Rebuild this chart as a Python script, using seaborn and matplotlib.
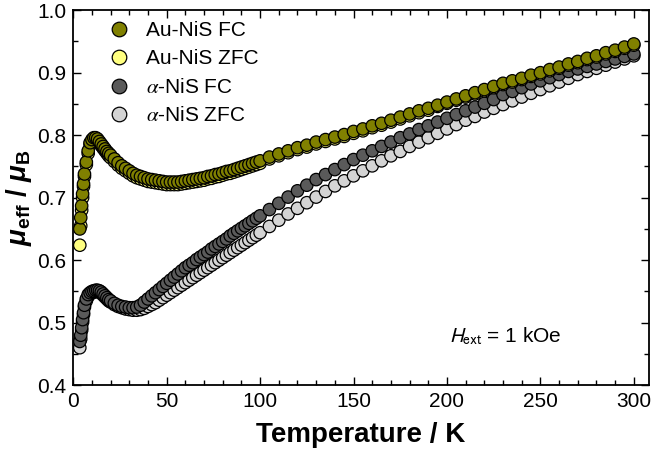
import pandas as pd
import seaborn as sns
import matplotlib.pyplot as plt
from matplotlib.ticker import MultipleLocator
from matplotlib.lines import Line2D

# temperature grid (K): fine steps at low T, 2 K up to 100 K, 5 K above
temperature = [3.5, 4, 4.5, 5, 5.5, 6, 7, 8, 9, 10, 11, 12, 13, 14, 15, 16, 17, 18, 19, 20,
               22, 24, 26, 28, 30, 32, 34, 36, 38, 40, 42, 44, 46, 48, 50, 52, 54, 56, 58, 60,
               62, 64, 66, 68, 70, 72, 74, 76, 78, 80, 82, 84, 86, 88, 90, 92, 94, 96, 98, 100,
               105, 110, 115, 120, 125, 130, 135, 140, 145, 150, 155, 160, 165, 170, 175, 180,
               185, 190, 195, 200, 205, 210, 215, 220, 225, 230, 235, 240, 245, 250, 255, 260,
               265, 270, 275, 280, 285, 290, 295, 300]

au_fc = [0.650, 0.668, 0.687, 0.706, 0.722, 0.738, 0.757, 0.775, 0.788, 0.793, 0.796, 0.796,
         0.794, 0.790, 0.786, 0.782, 0.778, 0.774, 0.771, 0.768,
         0.762, 0.756, 0.751, 0.747, 0.743, 0.739, 0.736, 0.734, 0.732, 0.730, 0.729, 0.728,
         0.727, 0.726, 0.725, 0.725, 0.725, 0.725, 0.726, 0.727, 0.728, 0.729, 0.730, 0.731,
         0.732, 0.734, 0.735, 0.737, 0.738, 0.740, 0.742, 0.743, 0.745, 0.747, 0.749, 0.751,
         0.753, 0.755, 0.757, 0.759,
         0.765, 0.770, 0.775, 0.780, 0.784, 0.789, 0.793, 0.797, 0.801, 0.806, 0.810, 0.815,
         0.819, 0.824, 0.829, 0.834, 0.839, 0.843, 0.848, 0.853, 0.858, 0.863, 0.868, 0.873,
         0.878, 0.883, 0.887, 0.891, 0.896, 0.900, 0.905, 0.909, 0.914, 0.918, 0.923, 0.927,
         0.932, 0.936, 0.941, 0.946]

au_zfc = [0.624, 0.655, 0.680, 0.700, 0.718, 0.734, 0.753, 0.771, 0.785, 0.790, 0.793, 0.793,
          0.791, 0.787, 0.783, 0.779, 0.775, 0.771, 0.767, 0.764,
          0.758, 0.752, 0.747, 0.743, 0.739, 0.735, 0.732, 0.730, 0.728, 0.726, 0.725, 0.724,
          0.723, 0.722, 0.721, 0.721, 0.721, 0.721, 0.722, 0.723, 0.724, 0.725, 0.726, 0.727,
          0.728, 0.730, 0.731, 0.733, 0.734, 0.736, 0.738, 0.739, 0.741, 0.743, 0.745, 0.747,
          0.749, 0.751, 0.753, 0.755,
          0.762, 0.767, 0.772, 0.777, 0.781, 0.786, 0.790, 0.794, 0.798, 0.803, 0.807, 0.812,
          0.816, 0.821, 0.826, 0.831, 0.836, 0.840, 0.846, 0.851, 0.856, 0.861, 0.866, 0.871,
          0.876, 0.881, 0.885, 0.889, 0.894, 0.898, 0.903, 0.907, 0.912, 0.916, 0.921, 0.925,
          0.930, 0.934, 0.939, 0.944]

nis_fc = [0.470, 0.480, 0.492, 0.505, 0.516, 0.528, 0.538, 0.545, 0.548, 0.550, 0.551, 0.552,
          0.552, 0.551, 0.549, 0.546, 0.543, 0.540, 0.537, 0.535,
          0.531, 0.528, 0.526, 0.525, 0.524, 0.524, 0.525, 0.528, 0.533, 0.538, 0.543, 0.548,
          0.553, 0.558, 0.563, 0.568, 0.573, 0.578, 0.583, 0.588, 0.592, 0.596, 0.601, 0.605,
          0.609, 0.613, 0.618, 0.622, 0.626, 0.630, 0.634, 0.639, 0.643, 0.647, 0.651, 0.655,
          0.659, 0.663, 0.667, 0.671,
          0.681, 0.691, 0.701, 0.711, 0.720, 0.729, 0.737, 0.745, 0.753, 0.761, 0.768, 0.775,
          0.782, 0.789, 0.796, 0.802, 0.809, 0.815, 0.821, 0.827, 0.833, 0.839, 0.845, 0.851,
          0.857, 0.865, 0.870, 0.876, 0.882, 0.887, 0.892, 0.897, 0.902, 0.906, 0.910, 0.914,
          0.918, 0.922, 0.926, 0.930]

nis_zfc = [0.460, 0.474, 0.488, 0.501, 0.513, 0.525, 0.535, 0.542, 0.546, 0.548, 0.549, 0.550,
           0.550, 0.549, 0.547, 0.544, 0.541, 0.538, 0.535, 0.533,
           0.529, 0.526, 0.524, 0.522, 0.521, 0.520, 0.520, 0.521, 0.523, 0.526, 0.529, 0.532,
           0.536, 0.540, 0.544, 0.548, 0.552, 0.556, 0.560, 0.564, 0.568, 0.572, 0.576, 0.580,
           0.584, 0.588, 0.592, 0.596, 0.600, 0.604, 0.608, 0.612, 0.616, 0.620, 0.624, 0.628,
           0.632, 0.636, 0.640, 0.644,
           0.654, 0.664, 0.674, 0.683, 0.692, 0.701, 0.710, 0.719, 0.727, 0.735, 0.743, 0.751,
           0.759, 0.767, 0.774, 0.782, 0.789, 0.796, 0.803, 0.810, 0.817, 0.824, 0.830, 0.837,
           0.843, 0.849, 0.855, 0.861, 0.867, 0.873, 0.879, 0.885, 0.891, 0.897, 0.902, 0.907,
           0.912, 0.917, 0.922, 0.927]

labels = ["Au-NiS FC", "Au-NiS ZFC", r"$\alpha$-NiS FC", r"$\alpha$-NiS ZFC"]
colors = ["#808000", "#ffff80", "#5a5a5a", "#d4d4d4"]

# drawing order: grey ZFC at the back, olive FC on top
frames = []
for name, vals in [(labels[3], nis_zfc), (labels[2], nis_fc), (labels[1], au_zfc), (labels[0], au_fc)]:
    frames.append(pd.DataFrame({"T": temperature, "mu": vals, "sample": name}))
df = pd.concat(frames, ignore_index=True)

sns.set_style("ticks")
plt.rcParams["font.family"] = ["Liberation Sans", "DejaVu Sans"]
plt.rcParams["text.color"] = "black"
plt.rcParams["axes.labelcolor"] = "black"
plt.rcParams["mathtext.fontset"] = "custom"
plt.rcParams["mathtext.it"] = "Liberation Sans:italic:bold"
plt.rcParams["mathtext.rm"] = "Liberation Sans:bold"
plt.rcParams["mathtext.bf"] = "Liberation Sans:bold"

fig = plt.figure(figsize=(6.54, 4.63), dpi=100)
ax = fig.add_axes([0.112, 0.168, 0.880, 0.810])

sns.scatterplot(data=df, x="T", y="mu", hue="sample", hue_order=labels,
                palette=dict(zip(labels, colors)), s=80, edgecolor="black",
                linewidth=0.9, legend=False, ax=ax)

ax.set_xlim(0, 308)
ax.set_ylim(0.4, 1.0)
ax.xaxis.set_major_locator(MultipleLocator(50))
ax.xaxis.set_minor_locator(MultipleLocator(10))
ax.yaxis.set_major_locator(MultipleLocator(0.1))
ax.yaxis.set_minor_locator(MultipleLocator(0.05))
ax.yaxis.set_major_formatter(plt.FormatStrFormatter("%.1f"))
ax.tick_params(which="both", direction="in", top=True, right=True, width=1.0,
               labelsize=15, colors="black")
ax.tick_params(which="major", length=6)
ax.tick_params(which="minor", length=3.5)
ax.tick_params(axis="x", pad=5)
ax.tick_params(axis="y", pad=5)
for sp in ax.spines.values():
    sp.set_linewidth(1.3)
    sp.set_color("black")

ax.set_xlabel("Temperature / K", fontsize=20, fontweight="bold", labelpad=8)
ax.set_ylabel(r"$\mu_{\rm eff}$ / $\mu_{\rm B}$", fontsize=20, fontweight="bold",
              math_fontfamily="custom", labelpad=2)

handles = [Line2D([], [], marker="o", linestyle="none", markersize=10.5,
                  markerfacecolor=c, markeredgecolor="black", markeredgewidth=0.9)
           for c in colors]
leg = ax.legend(handles, labels, loc="upper left", bbox_to_anchor=(0.028, 1.021),
                frameon=False, handlelength=1.0, handletextpad=0.8, labelspacing=0.45,
                prop={"size": 15, "math_fontfamily": "stix"})

ax.text(201, 0.478, r"$H_{\rm ext}$ = 1 kOe", fontsize=15, va="center",
        math_fontfamily="stixsans")

fig.savefig("out.png", dpi=100)
